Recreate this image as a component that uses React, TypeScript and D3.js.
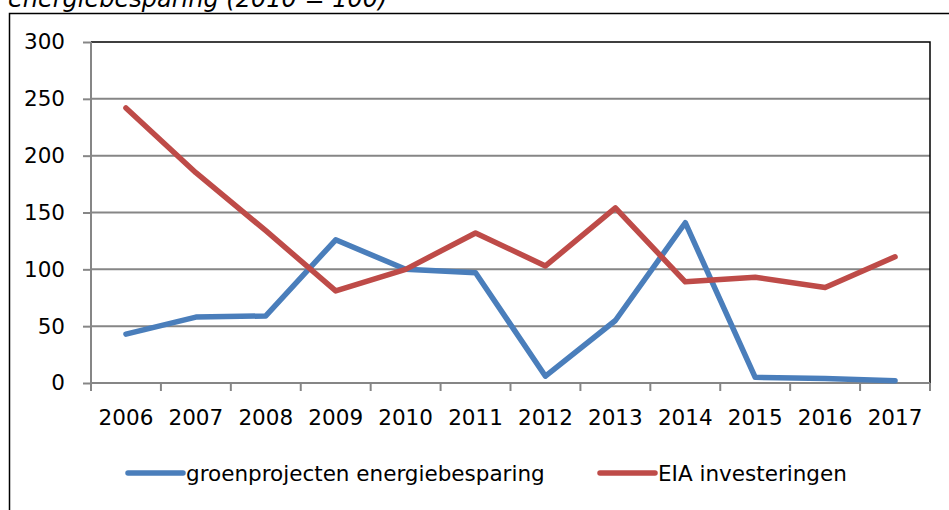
import { useEffect, useRef } from 'react';
import * as d3 from 'd3';

const years = ['2006', '2007', '2008', '2009', '2010', '2011', '2012', '2013', '2014', '2015', '2016', '2017'];
const groenValues = [43, 58, 59, 126, 100, 97, 6, 55, 141, 5, 4, 2];
const eiaValues = [242, 185, 134, 81, 100, 132, 103, 154, 89, 93, 84, 111];
const yTicks = [0, 50, 100, 150, 200, 250, 300];

const seriesList = [
  { name: 'groenprojecten energiebesparing', values: groenValues, color: '#4A7EBB' },
  { name: 'EIA investeringen', values: eiaValues, color: '#BE4B48' },
];

function App() {
  const svgRef = useRef<SVGSVGElement | null>(null);

  useEffect(() => {
    drawChart();
    // eslint-disable-next-line
  }, []);

  function drawChart() {
    const config = { left: 91, right: 930, top: 42, bottom: 383 };
    const svg = d3.select(svgRef.current);
    svg.selectAll('*').remove();

    const font = 'Verdana, "DejaVu Sans", sans-serif';
    const fontSize = '21.5px';

    // title, cut off at the top of the picture
    svg.append('text')
      .attr('x', 8)
      .attr('y', 7)
      .style('font-family', font)
      .style('font-style', 'italic')
      .style('font-size', '24px')
      .style('fill', '#000')
      .text('energiebesparing (2010 = 100)');

    // outer chart border
    svg.append('rect')
      .attr('x', 9.5)
      .attr('y', 13.5)
      .attr('width', 960)
      .attr('height', 520)
      .style('fill', 'none')
      .style('stroke', '#000')
      .style('stroke-width', 1.5);

    const xScale = d3.scaleBand()
      .domain(years)
      .range([config.left, config.right]);

    const yScale = d3.scaleLinear()
      .domain([0, 300])
      .range([config.bottom, config.top]);

    // gridlines
    svg.append('g')
      .selectAll('line')
      .data(yTicks.filter(t => t > 0 && t < 300))
      .join('line')
      .attr('x1', config.left)
      .attr('x2', config.right)
      .attr('y1', d => yScale(d))
      .attr('y2', d => yScale(d))
      .style('stroke', '#868686')
      .style('stroke-width', 2);

    // plot area border top/right
    svg.append('path')
      .attr('d', `M${config.left},${config.top}H${config.right}V${config.bottom}`)
      .style('fill', 'none')
      .style('stroke', '#000')
      .style('stroke-width', 1.5);

    // y axis
    const yAxis = d3.axisLeft(yScale).tickValues(yTicks).tickSize(8).tickPadding(18);
    const yG = svg.append('g')
      .attr('transform', `translate(${config.left},0)`)
      .call(yAxis);

    // x axis
    const xAxis = d3.axisBottom(xScale).tickSize(0).tickPadding(27);
    const xG = svg.append('g')
      .attr('transform', `translate(0,${config.bottom})`)
      .call(xAxis);

    svg.append('g')
      .selectAll('line')
      .data(years.concat(['end']))
      .join('line')
      .attr('x1', (d, i) => config.left + i * xScale.step())
      .attr('x2', (d, i) => config.left + i * xScale.step())
      .attr('y1', config.bottom)
      .attr('y2', config.bottom + 8)
      .style('stroke', '#868686')
      .style('stroke-width', 2);

    [yG, xG].forEach(g => {
      g.select('.domain').style('stroke', '#868686').style('stroke-width', 2);
      g.selectAll('.tick line').style('stroke', '#868686').style('stroke-width', 2);
      g.selectAll('.tick text')
        .style('font-family', font)
        .style('font-size', fontSize)
        .style('fill', '#000');
    });
    xG.select('.domain').attr('d', `M${config.left},0H${config.right}`);
    yG.select('.domain').attr('d', `M0,${config.bottom}V${config.top}`);

    const line = d3.line<number>()
      .x((d, i) => (xScale(years[i]) as number) + xScale.bandwidth() / 2)
      .y(d => yScale(d));

    seriesList.forEach(s => {
      svg.append('path')
        .datum(s.values)
        .attr('d', line)
        .style('fill', 'none')
        .style('stroke', s.color)
        .style('stroke-width', 5.5)
        .style('stroke-linecap', 'round')
        .style('stroke-linejoin', 'round');
    });

    // legend
    const legendX = [128, 600];
    const legend = svg.append('g')
      .selectAll('g')
      .data(seriesList)
      .join('g')
      .attr('transform', (d, i) => `translate(${legendX[i]},473)`);

    legend.append('line')
      .attr('x1', 0)
      .attr('x2', 55)
      .style('stroke', d => d.color)
      .style('stroke-width', 5.5)
      .style('stroke-linecap', 'round');

    legend.append('text')
      .attr('x', 58)
      .attr('dy', '0.35em')
      .style('font-family', font)
      .style('font-size', fontSize)
      .style('fill', '#000')
      .text(d => d.name);
  }

  return (
    <div>
      <svg
        ref={svgRef}
        width={949}
        height={510}
        style={{ position: 'absolute', left: 0, top: 0, background: '#fff' }}
      />
    </div>
  );
}

export default App;
